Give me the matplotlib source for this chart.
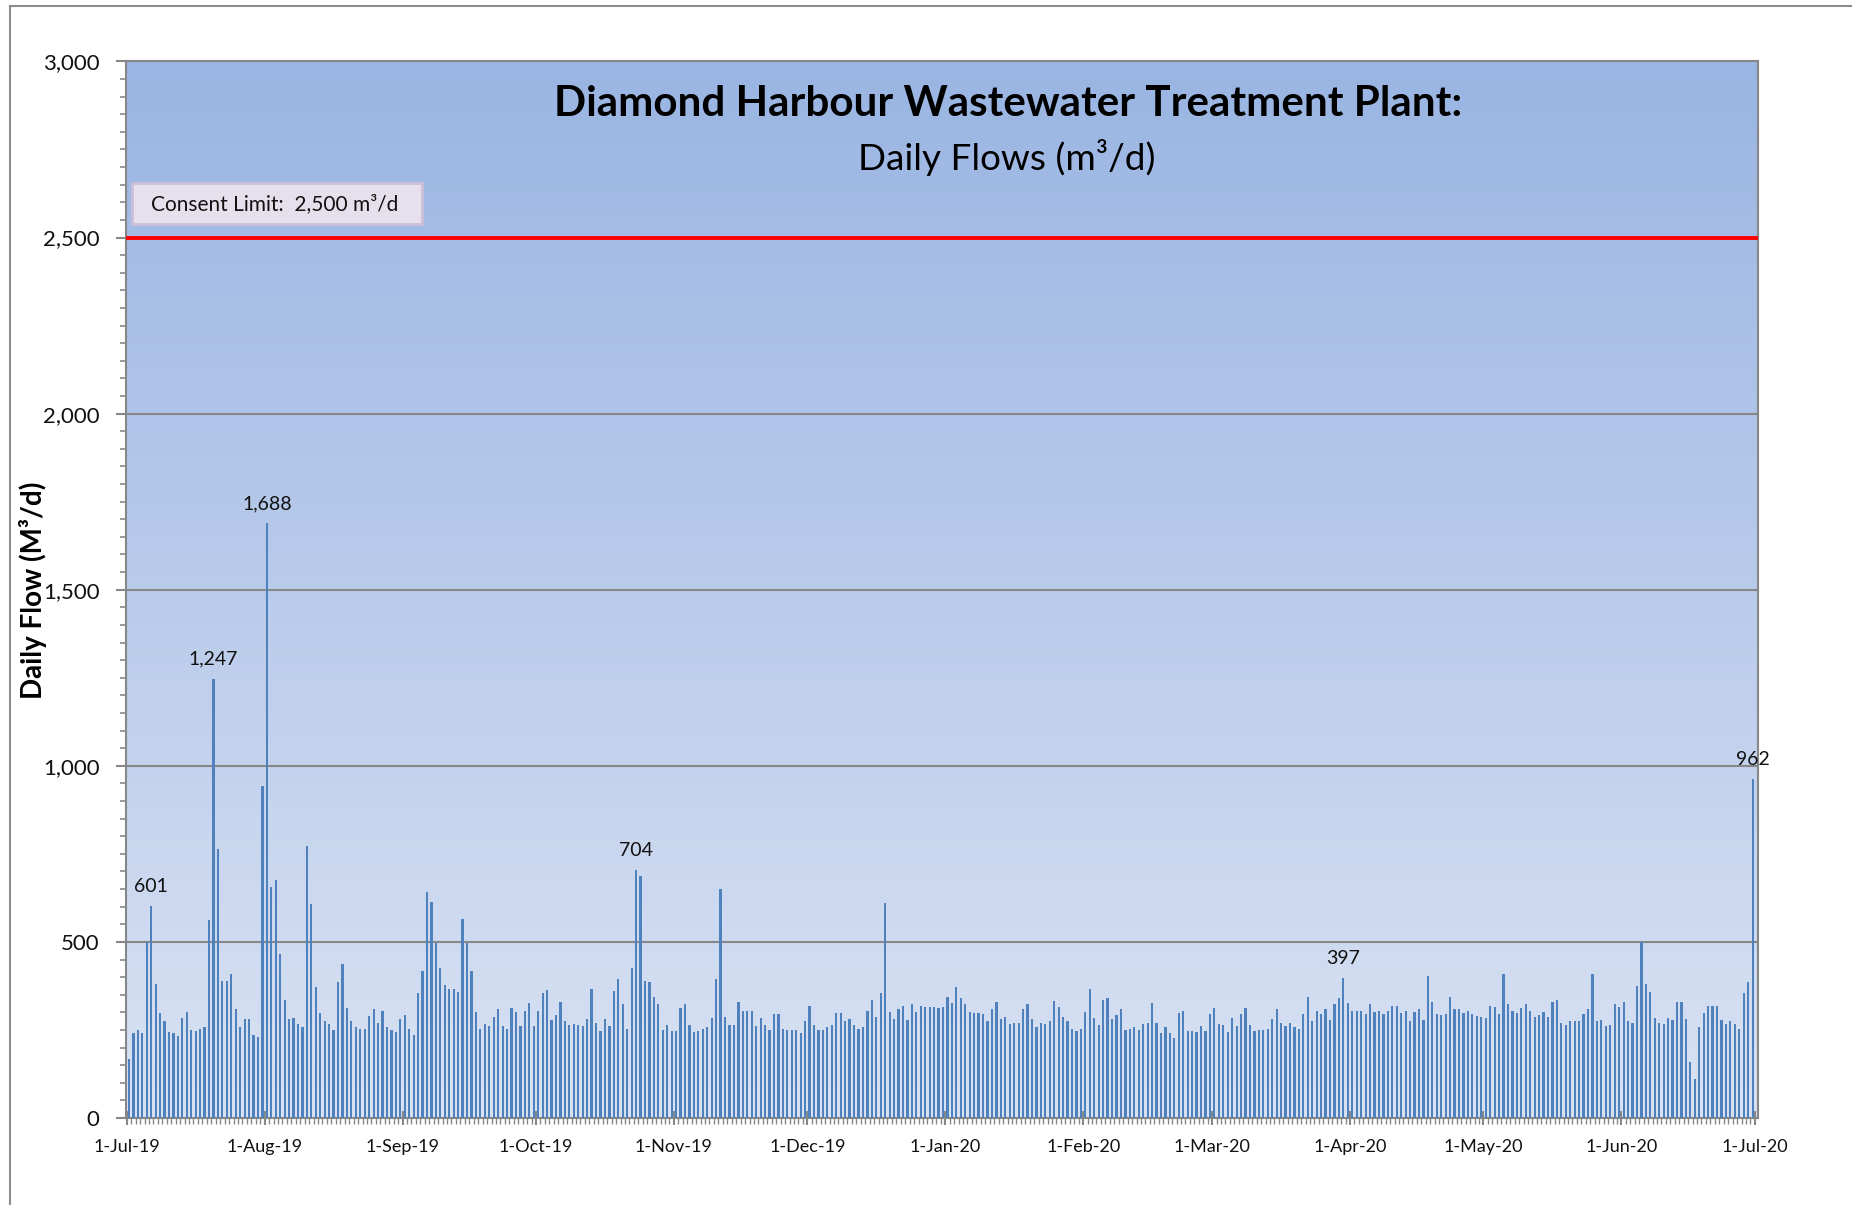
import numpy as np
import pandas as pd
import matplotlib
matplotlib.use("Agg")
import matplotlib.pyplot as plt
import matplotlib.dates as mdates
from matplotlib.patches import Rectangle
from matplotlib.lines import Line2D
from matplotlib.ticker import MultipleLocator, FuncFormatter

# ---- colours (Excel-ish chart theme) ----
BAR    = "#4F81BD"
GRIDC  = "#878787"
AXISC  = "#878787"
TOPBG  = "#9AB5E3"
BOTBG  = "#D9E2F3"
LIMITC = "#FF0000"
INK    = "#111111"

plt.rcParams.update({
    "font.family": ["Lato", "DejaVu Sans"],
    "text.color": INK,
    "xtick.color": AXISC, "ytick.color": AXISC,
    "xtick.labelcolor": INK, "ytick.labelcolor": INK,
})

# ------------------------------------------------------------------ data
# daily flows in m3/d, one list per month
jul19 = [167, 240, 250, 240, 500, 601, 381, 299, 274, 243, 240, 233, 284, 302, 250, 246,
         252, 257, 562, 1247, 765, 388, 388, 410, 309, 257, 280, 280, 236, 229, 943]
aug19 = [1688, 655, 676, 465, 336, 280, 284, 267, 257, 772, 607, 371, 299, 274, 267, 250,
         385, 437, 312, 274, 257, 252, 252, 289, 309, 271, 305, 257, 250, 243, 280]
sep19 = [292, 252, 236, 354, 416, 641, 614, 497, 427, 378, 367, 367, 357, 566, 497,
         416, 302, 252, 267, 260, 288, 309, 260, 252, 312, 302, 260, 305, 327, 260]
oct19 = [305, 354, 364, 277, 292, 329, 274, 264, 267, 264, 260, 280, 367, 271, 247, 280,
         260, 360, 394, 323, 252, 427, 704, 686, 388, 385, 343, 323, 250, 264, 247]
nov19 = [247, 312, 323, 264, 243, 247, 254, 257, 284, 394, 651, 288, 264, 264, 329,
         305, 305, 305, 260, 284, 264, 250, 295, 295, 252, 250, 250, 250, 240, 274]
dec19 = [319, 264, 250, 250, 257, 264, 299, 299, 274, 281, 264, 254, 257, 305, 336, 288,
         354, 610, 302, 280, 309, 319, 277, 323, 302, 319, 316, 316, 316, 312, 316]
jan20 = [343, 327, 371, 340, 323, 302, 299, 299, 295, 274, 309, 329, 281, 288, 267, 271,
         270, 309, 323, 281, 257, 270, 267, 274, 332, 316, 288, 274, 252, 247, 252]
feb20 = [302, 367, 284, 264, 336, 340, 281, 292, 309, 250, 252, 257, 250, 267, 270,
         327, 270, 240, 257, 240, 226, 299, 305, 247, 247, 243, 260, 247, 295]
mar20 = [312, 267, 264, 243, 284, 260, 295, 312, 264, 247, 250, 250, 252, 280, 309, 270,
         260, 270, 257, 252, 295, 343, 274, 305, 295, 309, 277, 323, 340, 397, 327]
apr20 = [305, 305, 305, 295, 323, 302, 305, 295, 305, 319, 319, 299, 305, 274, 302,
         309, 277, 403, 329, 295, 292, 295, 343, 309, 309, 299, 305, 295, 290, 288]
may20 = [284, 319, 316, 295, 410, 323, 305, 299, 312, 323, 305, 288, 292, 302, 288, 329,
         336, 270, 264, 274, 274, 274, 295, 309, 410, 274, 277, 260, 264, 323, 316]
jun20 = [329, 274, 270, 375, 500, 381, 357, 284, 270, 267, 284, 277, 329, 329, 280,
         160, 111, 257, 299, 319, 319, 319, 277, 267, 274, 267, 252, 354, 385, 962]

flows = (jul19 + aug19 + sep19 + oct19 + nov19 + dec19 +
         jan20 + feb20 + mar20 + apr20 + may20 + jun20)
days = pd.date_range("2019-07-01", "2020-06-30", freq="D")

# days whose value is printed above the bar
labelled = ["2019-07-06", "2019-07-20", "2019-08-01", "2019-10-23",
            "2020-03-30", "2020-06-30"]

consent_limit = 2500

# ------------------------------------------------------------------ figure
W, H = 1852, 1205
fig = plt.figure(figsize=(W / 100, H / 100), dpi=100)
fig.patch.set_facecolor("white")

def fx(px):
    return px / W

def fy(py):
    return 1 - py / H

ax = fig.add_axes([fx(126), fy(1118), fx(1758 - 126), (1118 - 61.4) / H])

# gradient plot area
grad = np.linspace(0, 1, 256).reshape(-1, 1)
c0 = np.array(matplotlib.colors.to_rgb(TOPBG))
c1 = np.array(matplotlib.colors.to_rgb(BOTBG))
img = c0[None, None, :] * (1 - grad[:, :, None]) + c1[None, None, :] * grad[:, :, None]
ax.imshow(img, extent=[0, 1, 0, 1], transform=ax.transAxes, aspect="auto",
          zorder=0, interpolation="bilinear")

centres = days + pd.Timedelta(hours=12)
ax.bar(centres, flows, width=0.5, color=BAR, linewidth=0, zorder=3)

for y in (500, 1000, 1500, 2000):
    ax.axhline(y, color=GRIDC, lw=1.5, zorder=2)
ax.axhline(consent_limit, color=LIMITC, lw=2.8, zorder=4)

ax.set_ylim(0, 3000)
ax.set_xlim(pd.Timestamp("2019-07-01") - pd.Timedelta(hours=4),
            pd.Timestamp("2020-07-01") + pd.Timedelta(hours=17))

for s in ax.spines.values():
    s.set_color(AXISC)
    s.set_linewidth(1.5)

ax.yaxis.set_major_locator(MultipleLocator(500))
ax.yaxis.set_minor_locator(MultipleLocator(50))
ax.yaxis.set_major_formatter(FuncFormatter(lambda v, p: f"{v:,.0f}"))
ax.tick_params(axis="y", which="major", length=7, width=1.5, pad=12, labelsize=16)
ax.tick_params(axis="y", which="minor", length=4, width=1.2)

ax.xaxis.set_major_locator(mdates.MonthLocator())
ax.xaxis.set_minor_locator(mdates.DayLocator())
ax.xaxis.set_major_formatter(mdates.DateFormatter("%-d-%b-%y"))
ax.tick_params(axis="x", which="major", direction="inout", length=10, width=1.5,
               pad=10, labelsize=13)
ax.tick_params(axis="x", which="minor", length=4, width=1.0)

# value labels on the big days
for d in labelled:
    i = days.get_loc(pd.Timestamp(d))
    ax.annotate(f"{flows[i]:,}", xy=(centres[i], flows[i]), xytext=(0, 8),
                textcoords="offset points", ha="center", va="bottom",
                fontsize=14, color=INK, zorder=5)

# ---- titles and labels ----
fig.text(fx(1008), fy(104), "Diamond Harbour Wastewater Treatment Plant:",
         ha="center", va="center", fontsize=30.3, fontweight="bold", color="black")
fig.text(fx(1007), fy(158), "Daily Flows (m\u00b3/d)",
         ha="center", va="center", fontsize=26.6, color="black")
fig.text(fx(33), fy(590), "Daily Flow (M\u00b3/d)", rotation=90,
         ha="center", va="center", fontsize=20, fontweight="bold", color="black")

# consent limit box
box = Rectangle((fx(132), fy(224)), fx(422 - 132), (224 - 183) / H,
                transform=fig.transFigure, facecolor="#E6E0EC",
                edgecolor="#CDBFDA", lw=2, zorder=6)
fig.add_artist(box)
fig.text(fx(151), fy(204), "Consent Limit:  2,500 m\u00b3/d",
         ha="left", va="center", fontsize=15, color=INK, zorder=7)

# outer chart frame (cut by the image edges)
fig.add_artist(Line2D([fx(10), fx(10)], [fy(6), 0], color="#8C8C8C", lw=1.5))
fig.add_artist(Line2D([fx(10), 1], [fy(6), fy(6)], color="#8C8C8C", lw=1.5))

fig.savefig("out.png", dpi=100, facecolor="white")
